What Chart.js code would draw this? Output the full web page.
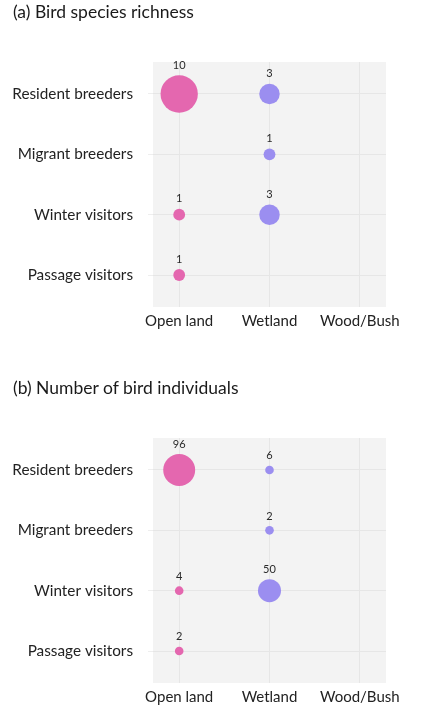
<!DOCTYPE html>
<html>
<head>
<meta charset="utf-8">
<script src="https://cdn.jsdelivr.net/npm/chart.js@4/dist/chart.umd.min.js"></script>
<style>
  body { margin:0; background:#fff; }
  #wrap { position:relative; width:435px; height:713px; overflow:hidden; }
  canvas { position:absolute; left:0; }
  .ttl { position:absolute; left:13px; font-family:Lato, "Open Sans", sans-serif; font-size:17.5px; color:#1a1a1a; z-index:2; line-height:20px; }
</style>
</head>
<body>
<div id="wrap">
  <div class="ttl" style="top:2px">(a) Bird species richness</div>
  <canvas id="chartA" width="435" height="337" style="top:0"></canvas>
  <div class="ttl" style="top:378px">(b) Number of bird individuals</div>
  <canvas id="chartB" width="435" height="337" style="top:376px"></canvas>
</div>
<script>
// categories
const habitats = ['Open land', 'Wetland', 'Wood/Bush'];
const groups = ['Resident breeders', 'Migrant breeders', 'Winter visitors', 'Passage visitors'];

// (a) species richness, one value per group (0 = not recorded)
const richnessOpen    = [10, 0, 1, 1];
const richnessWetland = [3, 1, 3, 0];
const richnessWood    = [0, 0, 0, 0];

// (b) number of individuals
const individualsOpen    = [96, 0, 4, 2];
const individualsWetland = [6, 2, 50, 0];
const individualsWood    = [0, 0, 0, 0];

const pink = 'rgba(227,98,172,0.97)';
const purple = 'rgba(152,138,240,0.97)';
const woodColor = 'rgba(120,190,120,0.97)';

// turn a list of values into bubble points on (habitat, group)
function toPoints(values, col, sizeFn) {
  const pts = [];
  values.forEach((v, i) => {
    if (v > 0) pts.push({ x: col, y: i, r: sizeFn(v), v: v });
  });
  return pts;
}

const plotBg = {
  id: 'plotBg',
  beforeDraw(chart) {
    const a = chart.chartArea, c = chart.ctx;
    c.save();
    c.fillStyle = '#f3f3f3';
    c.fillRect(a.left, a.top, a.right - a.left, a.bottom - a.top);
    c.restore();
  }
};

const valueLabels = {
  id: 'valueLabels',
  afterDatasetsDraw(chart) {
    const c = chart.ctx;
    c.save();
    c.font = '11px Lato, "Open Sans", sans-serif';
    c.fillStyle = '#2a2a2a';
    c.textAlign = 'center';
    c.textBaseline = 'middle';
    chart.data.datasets.forEach((ds, di) => {
      chart.getDatasetMeta(di).data.forEach((el, i) => {
        const p = ds.data[i];
        c.fillText(String(p.v), el.x, el.y - p.r - 10);
      });
    });
    c.restore();
  }
};

function makeChart(id, open, wet, wood, sizeFn) {
  return new Chart(document.getElementById(id), {
    type: 'bubble',
    data: {
      datasets: [
        { label: habitats[0], data: toPoints(open, 0, sizeFn), backgroundColor: pink, borderColor: pink, borderWidth: 0 },
        { label: habitats[1], data: toPoints(wet, 1, sizeFn), backgroundColor: purple, borderColor: purple, borderWidth: 0 },
        { label: habitats[2], data: toPoints(wood, 2, sizeFn), backgroundColor: woodColor, borderColor: woodColor, borderWidth: 0 }
      ]
    },
    options: {
      responsive: false,
      animation: false,
      layout: { padding: { top: 62, right: 49, bottom: 0, left: 0 } },
      plugins: { legend: { display: false }, tooltip: { enabled: false } },
      scales: {
        x: {
          type: 'linear', min: -0.29, max: 2.29,
          afterBuildTicks: s => { s.ticks = habitats.map((h, i) => ({ value: i })); },
          afterFit: s => { s.height = 30; },
          border: { display: false },
          grid: { color: '#e6e6e6', drawTicks: false },
          ticks: {
            padding: 5,
            color: '#222',
            font: { family: 'Lato, "Open Sans", sans-serif', size: 15 },
            callback: v => habitats[v]
          }
        },
        y: {
          type: 'linear', min: -0.53, max: 3.53, reverse: true,
          afterBuildTicks: s => { s.ticks = groups.map((g, i) => ({ value: i })); },
          afterFit: s => { s.width = 153; },
          border: { display: false },
          grid: { color: '#e6e6e6', tickLength: 5, tickColor: '#eeeeee' },
          ticks: {
            padding: 15,
            color: '#222',
            font: { family: 'Lato, "Open Sans", sans-serif', size: 15.3 },
            callback: v => groups[v]
          }
        }
      }
    },
    plugins: [plotBg, valueLabels]
  });
}

makeChart('chartA', richnessOpen, richnessWetland, richnessWood, v => 5.9 * Math.sqrt(v));
makeChart('chartB', individualsOpen, individualsWetland, individualsWood, v => Math.max(4.3, 1.63 * Math.sqrt(v)));
</script>
</body>
</html>
